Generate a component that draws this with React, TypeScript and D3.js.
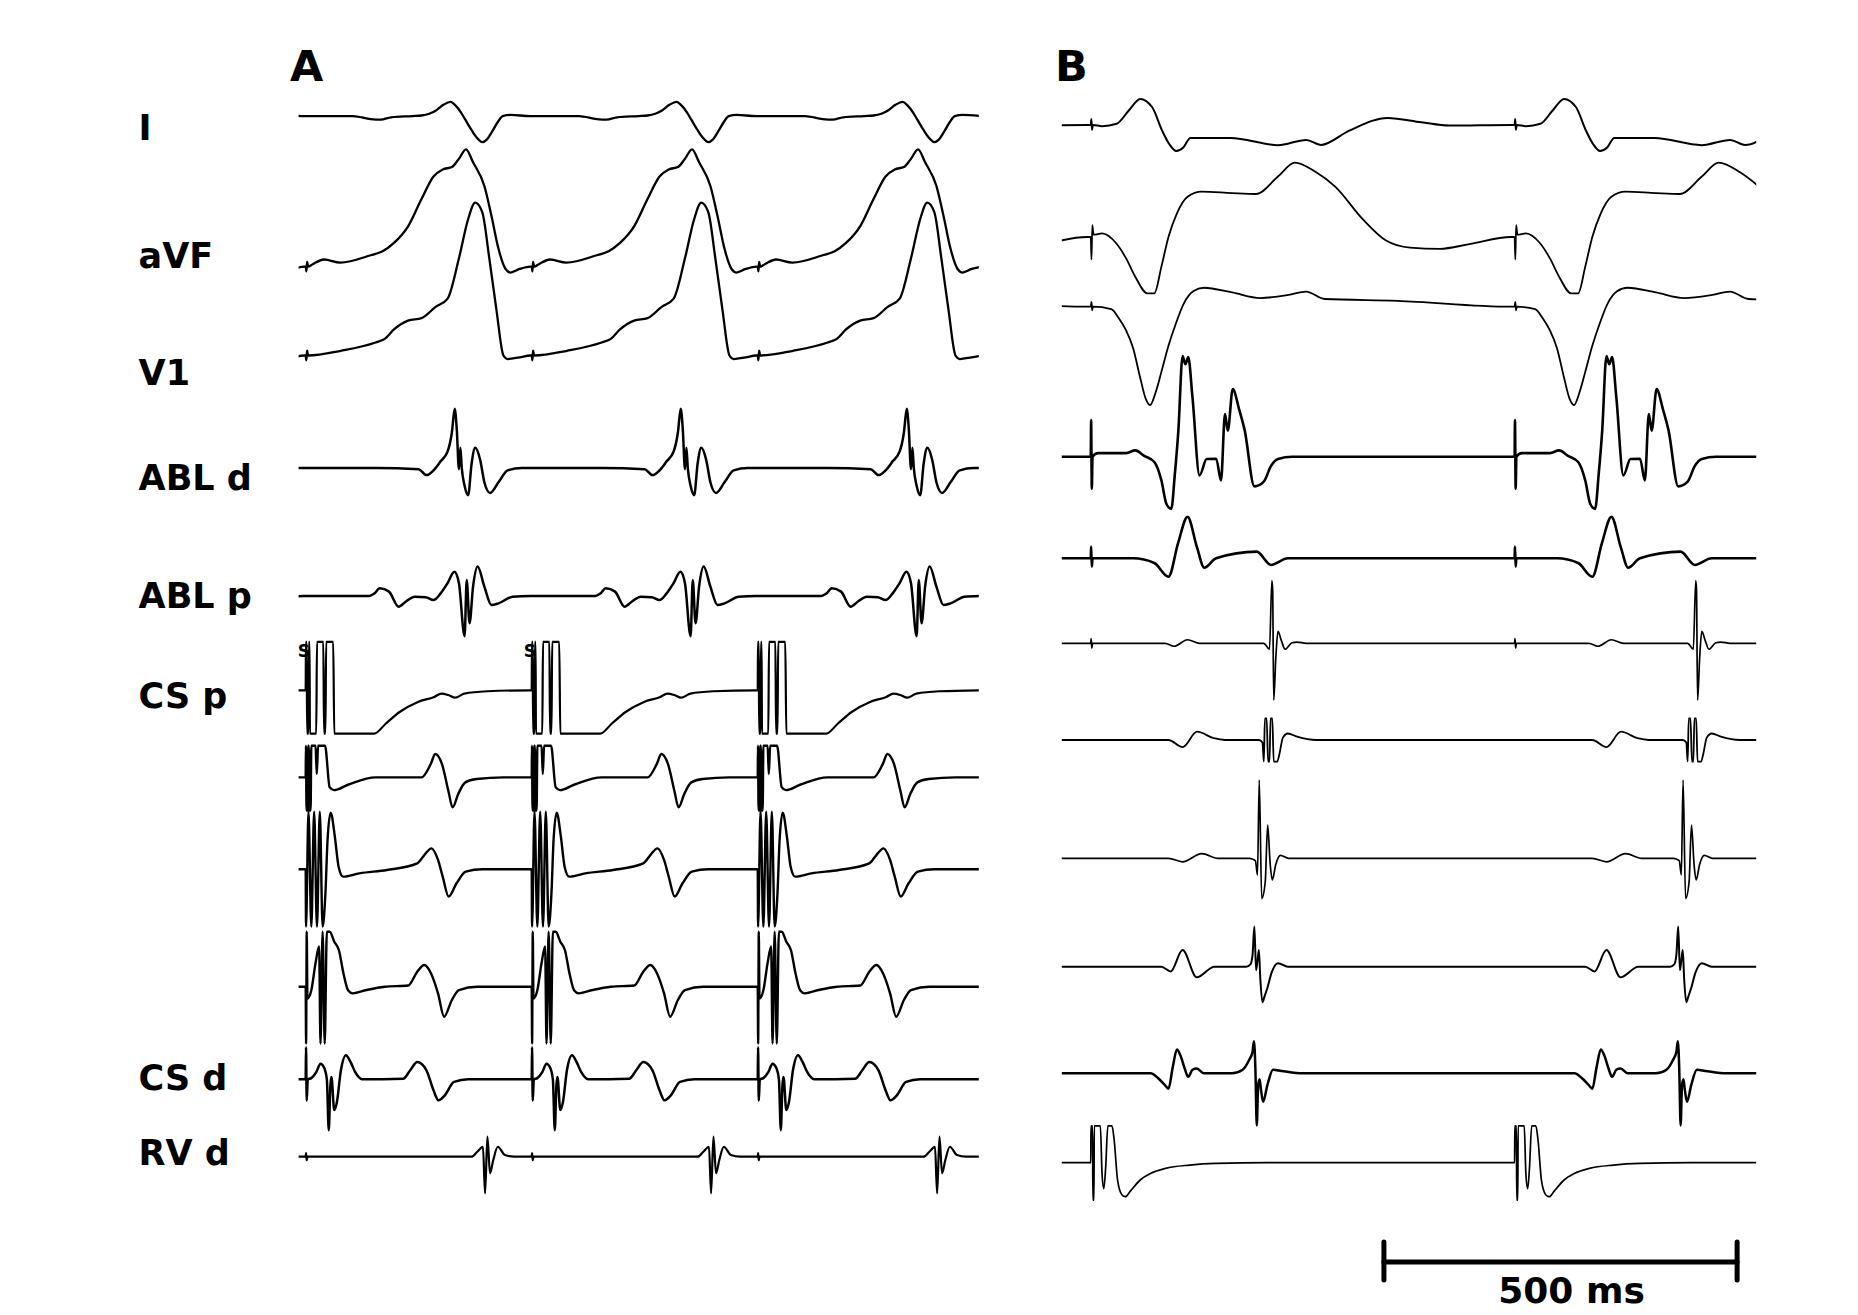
import React from "react";
import * as d3 from "d3";

type Pt = [number, number];

// ================= DATA =================
// Channel labels (left side, panel A rows)
const channelLabels = ["I", "aVF", "V1", "ABL d", "ABL p", "CS p", "", "", "", "CS d", "RV d"];
const panelLetters = ["A", "B"];

// Stimulus times (ms) and cycle length for each panel
const stimTimesA = [-310, 10, 330, 650];
const cycleA = 320;
const stimMarksA = ["", "S", "S", ""];
const stimTimesB = [-559, 41, 641];
const cycleB = 600;

// Scale bar
const scaleBarStartMs = 456;
const scaleBarMs = 500;
const scaleBarLabel = "500 ms";

// ---- Panel A beat templates: [ms after stimulus, amplitude] ----
const aI: Pt[] = [[0,0],[67,0],[92,-2.5],[106,-3],[121,-1],[151,0],[164,0.5],[175,2],[185,5],[195,9.5],[205,12],[212,9],[220,3],[226,-3],[234,-11],[242,-18],[250,-22],[256,-20],[264,-13],[272,-5],[279,0],[290,1],[318,0]];
const aAVF: Pt[] = [[0,0],[1,-4],[2,4],[3.5,0],[10,2],[26,6],[49,3.4],[92,9.6],[109,13],[125,20],[145,34],[164,57],[181,76],[194,82],[207,84],[217,91],[227,99],[237,88],[253,68],[263,43],[273,15],[283,-2],[290,-5],[303,-2],[318,0]];
const aV1: Pt[] = [[0,0],[1,-4],[2,4],[3.5,0],[50,4],[99,11],[112,14],[125,22],[145,29.5],[164,31.5],[184,41],[201,48],[217,82],[230,115],[240,129],[250,121],[260,82],[270,39],[280,0],[286,-3],[303,-1.5],[318,0]];
const aAblD: Pt[] = [[0,0],[100,0],[160,-1],[171,-6],[181,-2],[191,5.6],[201,14],[207,30],[211,50],[214,32],[217,-1],[219,17],[221,0],[225,-15],[230,-23],[235,4],[240,17],[247,7],[253,-12],[261,-21],[273,-12],[286,-2],[306,0],[318,0]];
const aAblP: Pt[] = [[0,0],[90,0],[97,2],[105,6.5],[118,3.7],[131.6,-9],[141.5,-4.8],[154.6,-0.6],[170,-1],[181,-3.4],[191,2.2],[200.7,10.7],[210.6,20.5],[217,10.7],[225,-34],[228,13.5],[232,-23],[237,7.9],[243.5,24.8],[253,7.9],[263,-7.6],[273,-6.2],[293,-0.6],[318,0]];
const aCsP: Pt[] = [[0,0],[0.4,90],[1.5,90],[2,-90],[4,-90],[4.6,90],[5.5,90],[6,-90],[15,-90],[16,90],[25,90],[26,-90],[28,-90],[29,90],[39,90],[40.5,-90],[97,-90],[113.6,-28],[133,-18.3],[159,-9.8],[182,-5.6],[192,-2.8],[202,-4],[211.6,-6.2],[224.6,-2.8],[257,-0.8],[318,0]];
const aCs7: Pt[] = [[0,0],[0.4,90],[1.2,-90],[3,-90],[3.5,90],[4.5,90],[5,-90],[7,-90],[8,90],[14,90],[15.7,2.8],[17.6,90],[27.4,90],[34,-8.4],[40,-10.7],[60,-6.2],[99,0],[164,0],[177,11.2],[183.6,19.7],[193,11.2],[202,-11.2],[208,-25.3],[216,-14],[226,-4.2],[242,-1.4],[280,0],[318,0]];
const aCs8: Pt[] = [[0,0],[0.5,-90],[4,90],[8,-90],[12,90],[16,-90],[20,90],[24,-90],[28,-20],[31,25],[35.4,47.8],[41.3,27.6],[46.6,2.2],[53,-6.2],[76,-3.4],[115,-0.6],[158,5],[168,12],[178,17.7],[187.4,7.9],[194,-6.2],[202.5,-23],[213.6,-11.8],[226.7,-2],[250,0],[318,0]];
const aCs9: Pt[] = [[0,0],[0.6,-90],[1.5,90],[2.5,-10],[8,-3],[14,20],[19,34],[21,-90],[24,90],[27,-90],[30,90],[34,60],[40.5,38],[47,31],[53.6,11],[60,-3],[66.6,-5.6],[86,-2.8],[112,0],[145,1],[158,12.7],[168,18.3],[177.5,11.2],[187.4,-5.6],[196,-25.3],[207,-11.2],[217,-2.8],[243,0],[318,0]];
const aCsD: Pt[] = [[0,0],[0.5,27],[1.5,-18],[3,0],[8,1],[15,6],[21,13.2],[26,10],[30,0],[32.7,-43],[35,-5],[36.5,2],[40.5,-26],[44,-20],[50,8],[57,20.3],[64,14],[70,6.2],[80,0],[138,0.5],[148,7.6],[158,14.6],[171,7.6],[181,-9.3],[188,-17.7],[197,-13.5],[210,-2.2],[230,0],[318,0]];
const aRvD: Pt[] = [[0,0],[0.5,3],[1.5,-3],[2.5,0],[235,0],[243,4.2],[251,8.4],[254,-31],[257.3,16.9],[261,-14],[265.6,-2.8],[272,8.4],[282,1.4],[295,0],[318,0]];

// ---- Panel B beat templates ----
const bI: Pt[] = [[0,0],[0.8,5],[1.8,-4],[3,0],[16,-1],[36.6,1],[53.5,12],[70,22],[87,15],[101,-4.7],[111,-16],[121,-22],[131,-19],[141,-11],[198,-11],[265,-17],[305,-12.6],[326,-16.8],[366,-4.7],[420,6],[468,2.3],[507,-0.5],[595,0]];
const bAVF: Pt[] = [[0,0],[1,-19],[2.2,10],[4,2],[16,3],[36,-5.3],[50,-18],[63,-33.5],[80,-47.5],[90,-47.5],[100,-25],[110,0],[122,20],[137,34],[157,38.3],[200,37],[234,36.3],[265,51],[289,62.7],[318,55],[346,42.5],[385,15],[418,-3],[452,-9],[494,-10],[536,-6],[595,0]];
const bV1: Pt[] = [[0,0],[1,4],[2,-3],[3,0],[29,-2],[40,-10],[50,-20],[60,-35],[70,-60],[78,-78],[84,-83],[92,-72],[100,-55],[110,-33],[120,-15],[132,3],[145,13],[160,16],[200,12],[240,7.3],[280,10],[305,12.8],[331,6.5],[434,5],[595,0]];
const bAblD: Pt[] = [[0,0],[0.5,31],[1.5,-27],[2.5,0],[10,3],[50,3],[63,5.3],[75,1],[90,-4.5],[100,-20],[107,-39.7],[114,-44],[119,-15],[124,22],[130,85],[134,78],[138,84],[144,50],[154,-15.8],[164,-2],[177.5,-1.7],[184.4,-20],[190,36],[194,22],[201,57],[210,40],[218,22],[231.6,-25],[245,-21],[255,-8],[265,-2],[285,0],[595,0]];
const bAblP: Pt[] = [[0,0],[0.5,10],[1.5,-7],[2.5,0],[60,0],[90,-4],[110,-15.6],[123.7,13],[137,35],[150.5,9],[160.7,-8],[177.5,0],[235,5.6],[255,-5.6],[279,0],[595,0]];
const bCs6: Pt[] = [[0,0],[0.5,4],[1.5,-4],[2.5,0],[105,0],[118,-2.5],[137,3],[154,0],[245,0],[253,-5],[256.4,53],[257.5,45],[259,-48],[262,-12],[265,10],[270,2],[275,-5],[285,0.5],[292,1],[305,0],[595,0]];
const bCs7: Pt[] = [[0,0],[110,0],[130,-6],[150.5,7],[174,1.5],[190,0],[238,0],[243,-2],[245,-40],[246.5,40],[249,40],[251,-40],[253,-40],[254.5,40],[257,40],[259,-40],[264,-40],[267,-12],[272,2],[279,5.5],[292,2.8],[319,0],[595,0]];
const bCs8: Pt[] = [[0,0],[110,0],[130,-3],[157,4],[180,0],[225,0],[233,-2],[236,-14],[238.5,66],[242,-34],[247,-20],[250.4,28],[254,-5],[257,-18.3],[262,-5],[268.5,2.5],[280,0],[595,0]];
const bCs9: Pt[] = [[0,0],[100,0],[113,-4],[130,14],[150,-9],[175,0],[220,0],[226,2],[229,10],[231.6,34],[234,-3],[236,5],[238,14],[240,-10],[243,-30],[246,-25],[250,-18],[256,-5],[265,3],[279,0],[595,0]];
const bCsD: Pt[] = [[0,0],[85,0],[95,-4],[105,-10],[110,-13],[116,5],[122,20],[127,15],[133,4],[138,-3],[144,3],[150,4],[160,0],[200,0],[215,3],[224,11],[229,18],[231,27],[233,5],[235,-44],[237,-10],[239,-5],[241,-14],[244,-24],[250,-10],[258,3],[270,2],[300,0],[595,0]];
const bRvD: Pt[] = [[0,0],[0.3,90],[2.5,90],[3,-90],[4.5,-90],[5,90],[13.6,90],[16,-10],[18.5,-22],[21,-5],[24.2,90],[30,90],[33,20],[38,-15],[44,-27],[49,-28.7],[56,-24],[70,-14.6],[85,-9],[106,-4.8],[140,-2],[177,-0.6],[250,0],[595,0]];

const templatesA = [aI, aAVF, aV1, aAblD, aAblP, aCsP, aCs7, aCs8, aCs9, aCsD, aRvD];
const templatesB = [bI, bAVF, bV1, bAblD, bAblP, bCs6, bCs7, bCs8, bCs9, bCsD, bRvD];

// ================= LAYOUT / STYLE =================
const W = 1858;
const H = 1315;
const durA = 963;
const durB = 983;
const rangeA: [number, number] = [298.6, 978.8];
const rangeB: [number, number] = [1061.8, 1756.2];
const gain = 1.185;
const baseA = [116.1, 266.6, 355.5, 468, 596, 690.3, 777.4, 869.3, 986.7, 1079.3, 1156.7];
const baseB = [125, 237, 306.7, 456.7, 558.3, 643.3, 740, 858.3, 966.7, 1073.3, 1162.7];
const railsA: ([number, number] | null)[] = [null, null, null, null, null, [-36.5, 40.8], [-28, 26.7], [-48.4, 48.7], [-48, 46.4], null, null];
const railsB: ([number, number] | null)[] = [null, null, null, null, null, null, [-18.3, 18.2], null, null, null, [-31.5, 31]];
const strokeA = [2.3, 2.3, 2.3, 2.5, 2.5, 2.2, 2.4, 2.4, 2.4, 2.5, 2.2];
const strokeB = [2, 1.8, 1.8, 2.6, 2.6, 1.7, 1.8, 1.7, 2, 2.5, 1.7];
const labelBaselines = [139.6, 267.5, 385, 490.3, 607.6, 708.3, 0, 0, 0, 1090, 1164.5];
const font = "'DejaVu Sans', 'Liberation Sans', sans-serif";

function buildSeries(tpl: Pt[], stims: number[], period: number, rails: [number, number] | null, t0: number, t1: number): Pt[] {
  const pts: Pt[] = [];
  for (const s of stims) {
    for (const [t, v] of tpl) {
      if (t >= period) continue;
      const val = rails ? Math.max(rails[0], Math.min(rails[1], v)) : v;
      pts.push([s + t, val]);
    }
  }
  pts.sort((a, b) => a[0] - b[0]);
  let i0 = 0;
  while (i0 < pts.length - 1 && pts[i0 + 1][0] <= t0) i0++;
  let i1 = pts.length - 1;
  while (i1 > 0 && pts[i1 - 1][0] >= t1) i1--;
  return pts.slice(i0, i1 + 1);
}

function Panel({ id, templates, stims, period, dur, range, bases, rails, strokes }: any) {
  const x = d3.scaleLinear().domain([0, dur]).range(range);
  return (
    <g>
      <defs>
        <clipPath id={id}>
          <rect x={range[0]} y={0} width={range[1] - range[0]} height={H} />
        </clipPath>
      </defs>
      <g clipPath={`url(#${id})`}>
        {templates.map((tpl: Pt[], i: number) => {
          const y = d3.scaleLinear().domain([-100, 100]).range([bases[i] + 100 * gain, bases[i] - 100 * gain]);
          const pts = buildSeries(tpl, stims, period, rails[i], 0, dur);
          const line = d3.line<Pt>().x((d) => x(d[0])).y((d) => y(d[1])).curve(d3.curveMonotoneX);
          return <path key={i} d={line(pts) || ""} fill="none" stroke="#000" strokeWidth={strokes[i]} strokeLinejoin="round" />;
        })}
      </g>
    </g>
  );
}

export default function App() {
  React.useEffect(() => {
    document.body.style.margin = "0";
    document.body.style.overflow = "hidden";
  }, []);
  const xA = d3.scaleLinear().domain([0, durA]).range(rangeA);
  const xB = d3.scaleLinear().domain([0, durB]).range(rangeB);
  const barY = 1262;
  const barX0 = xB(scaleBarStartMs);
  const barX1 = xB(scaleBarStartMs + scaleBarMs);
  return (
    <svg width={W} height={H} style={{ position: "fixed", left: 0, top: 0, background: "#fff" }} fontFamily={font}>
      <rect x={0} y={0} width={W} height={H} fill="#fff" />
      <text x={290} y={80.6} fontSize={43} fontWeight="bold">{panelLetters[0]}</text>
      <text x={1055} y={80.6} fontSize={43} fontWeight="bold">{panelLetters[1]}</text>
      {channelLabels.map((lab, i) =>
        lab ? (
          <text key={i} x={138.6} y={labelBaselines[i]} fontSize={35} fontWeight="bold">{lab}</text>
        ) : null
      )}
      <Panel id="clipA" templates={templatesA} stims={stimTimesA} period={cycleA} dur={durA} range={rangeA} bases={baseA} rails={railsA} strokes={strokeA} />
      <Panel id="clipB" templates={templatesB} stims={stimTimesB} period={cycleB} dur={durB} range={rangeB} bases={baseB} rails={railsB} strokes={strokeB} />
      {stimTimesA.map((s, i) =>
        stimMarksA[i] ? (
          <text key={i} x={xA(s) - 8} y={657} fontSize={17} fontWeight="bold">{stimMarksA[i]}</text>
        ) : null
      )}
      <g stroke="#000" strokeWidth={5} strokeLinecap="round">
        <line x1={barX0} x2={barX1} y1={barY} y2={barY} />
        <line x1={barX0} x2={barX0} y1={barY - 20} y2={barY + 18} />
        <line x1={barX1} x2={barX1} y1={barY - 20} y2={barY + 18} />
      </g>
      <text x={(barX0 + barX1) / 2 + 11} y={1303} fontSize={36} fontWeight="bold" textAnchor="middle">{scaleBarLabel}</text>
    </svg>
  );
}
